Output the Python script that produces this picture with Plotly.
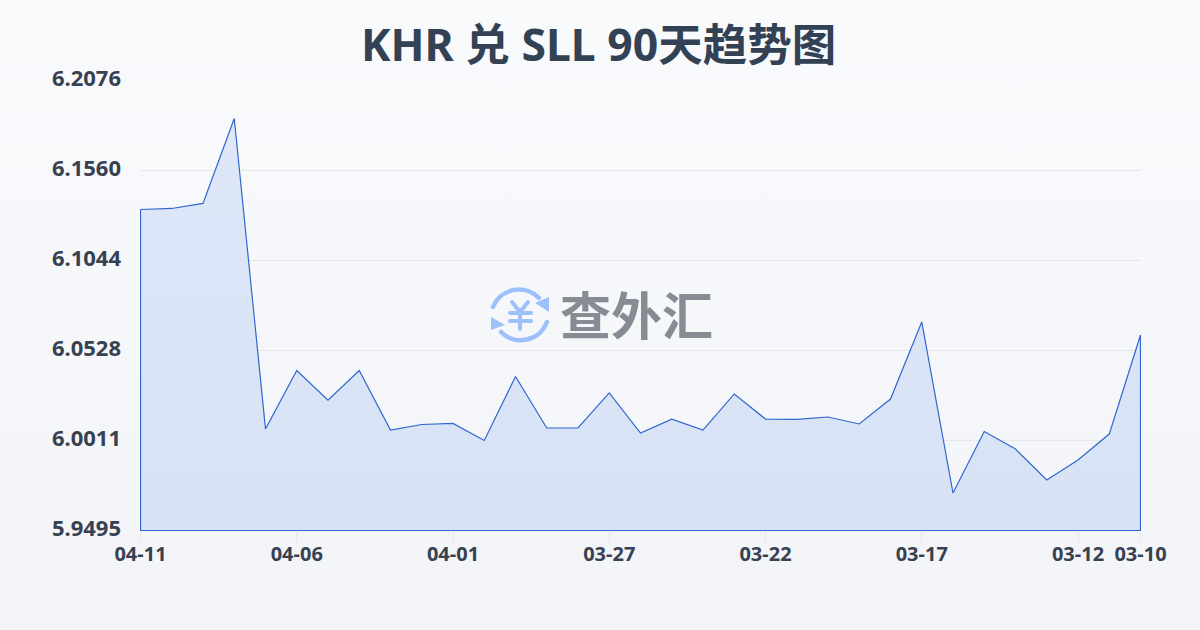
import base64
import plotly.graph_objects as go

dates = ["04-11","04-10","04-09","04-08","04-07","04-06","04-05","04-04","04-03","04-02","04-01",
         "03-31","03-30","03-29","03-28","03-27","03-26","03-25","03-24","03-23","03-22",
         "03-21","03-20","03-19","03-18","03-17","03-16","03-15","03-14","03-13","03-12","03-11","03-10"]
rates = [6.1336,6.1342,6.1371,6.1858,6.0077,6.0413,6.0243,6.0413,6.0071,6.0103,6.0109,
         6.0011,6.0378,6.0083,6.0083,6.0284,6.0054,6.0134,6.0071,6.0278,6.0134,
         6.0132,6.0146,6.0106,6.0249,6.0691,5.9710,6.0063,5.9962,5.9785,5.9899,6.0048,6.0616]
y_ticks = [6.2076,6.1560,6.1044,6.0528,6.0011,5.9495]
y_labels = ["6.2076","6.1560","6.1044","6.0528","6.0011","5.9495"]
x_ticks = ["04-11","04-06","04-01","03-27","03-22","03-17","03-12","03-10"]
title = "KHR 兑 SLL 90天趋势图"
watermark = "查外汇"

INK = "#374151"
LINE = "#2f66d0"
GRID = "#e5e7eb"

def data_uri(svg):
    return "data:image/svg+xml;base64," + base64.b64encode(svg.encode()).decode()

bg_svg = ('<svg xmlns="http://www.w3.org/2000/svg" width="1200" height="630" preserveAspectRatio="none">'
          '<defs><linearGradient id="g" x1="0" y1="0" x2="0" y2="1">'
          '<stop offset="0" stop-color="#f9fafc"/><stop offset="1" stop-color="#f2f4f7"/>'
          '</linearGradient></defs><rect width="1200" height="630" fill="url(#g)"/></svg>')

icon_svg = ('<svg xmlns="http://www.w3.org/2000/svg" width="60" height="60" viewBox="0 0 60 60">'
            '<g fill="none" stroke="#9dc0fb" stroke-width="4.5" stroke-linecap="round">'
            '<path d="M3 22 A28 28 0 0 1 49 13"/>'
            '<path d="M57 37 A28 28 0 0 1 11 47"/>'
            '<path d="M22 17 L30 27 L38 17 M30 27 V44 M20 28 H41 M20 36 H41" stroke-width="4"/>'
            '</g><g fill="#9dc0fb"><path d="M59 12 L59 27 L45 18 Z"/><path d="M1 32 L1 45 L15 40 Z"/></g></svg>')

# plot area is a whole number of pixels; half a pixel of axis padding keeps lines crisp
PLOT_W, PLOT_H = 1001, 451
n = len(dates) - 1
x_pad = 0.5 * n / (PLOT_W - 1)
y_pad = 0.5 * (y_ticks[0] - y_ticks[-1]) / (PLOT_H - 1)

def px(x):
    return (x - 140) / PLOT_W

def py(y):
    return 1 - (y - 80) / PLOT_H

fig = go.Figure()
fig.add_trace(go.Scatter(
    x=dates + [dates[-1], dates[0], dates[0]],
    y=rates + [y_ticks[-1], y_ticks[-1], rates[0]],
    mode="lines",
    line=dict(color=LINE, width=1.2),
    fill="toself",
    fillgradient=dict(type="vertical",
                      colorscale=[[0, "rgba(214,225,245,0.95)"], [1, "rgba(218,228,248,0.85)"]]),
    hoverinfo="skip",
    showlegend=False,
    cliponaxis=False,
))

fig.update_layout(
    width=1200, height=630, autosize=False,
    margin=dict(l=140, r=59, t=80, b=99),
    paper_bgcolor="#f5f7fa",
    plot_bgcolor="rgba(0,0,0,0)",
    font=dict(family="Noto Sans, Noto Sans CJK SC, sans-serif", color=INK),
    images=[
        dict(source=data_uri(bg_svg), xref="paper", yref="paper", xanchor="left", yanchor="top",
             x=px(0), y=py(0), sizex=1200/PLOT_W, sizey=630/PLOT_H, sizing="stretch", layer="below"),
        dict(source=data_uri(icon_svg), xref="paper", yref="paper", xanchor="left", yanchor="top",
             x=px(490), y=py(285), sizex=60/PLOT_W, sizey=60/PLOT_H, sizing="stretch", layer="above"),
    ],
    annotations=[
        dict(text=f"<b>{title}</b>", xref="paper", yref="paper", x=px(598.5), y=py(43.5),
             xanchor="center", yanchor="middle", showarrow=False,
             font=dict(size=44.5, color="#334155", family="Noto Sans, Noto Sans CJK SC, sans-serif")),
        dict(text=f"<b>{watermark}</b>", xref="paper", yref="paper", x=px(636), y=py(313),
             xanchor="center", yanchor="middle", showarrow=False,
             font=dict(size=51, color="#868b94", family="Noto Sans CJK SC, sans-serif")),
    ],
    xaxis=dict(
        type="category", categoryorder="array", categoryarray=dates, range=[-x_pad, n + x_pad],
        tickmode="array", tickvals=x_ticks, ticktext=x_ticks,
        ticks="outside", ticklen=10, tickwidth=1, tickcolor=GRID, ticklabelstandoff=-5,
        showgrid=False, zeroline=False, showline=False,
        tickfont=dict(size=20, color=INK, family="Noto Sans, sans-serif", weight=700),
    ),
    yaxis=dict(
        range=[y_ticks[-1] - y_pad, y_ticks[0] + y_pad],
        tickmode="array", tickvals=y_ticks, ticktext=y_labels,
        ticks="", ticklabelstandoff=18, ticklabelshift=-2,
        showgrid=True, gridcolor=GRID, gridwidth=1, zeroline=False, showline=False,
        tickfont=dict(size=22, color=INK, family="Noto Sans, sans-serif", weight=700),
    ),
)

fig.write_html("out.html", config={"displayModeBar": False},
               post_script="document.body.style.margin='0';")
